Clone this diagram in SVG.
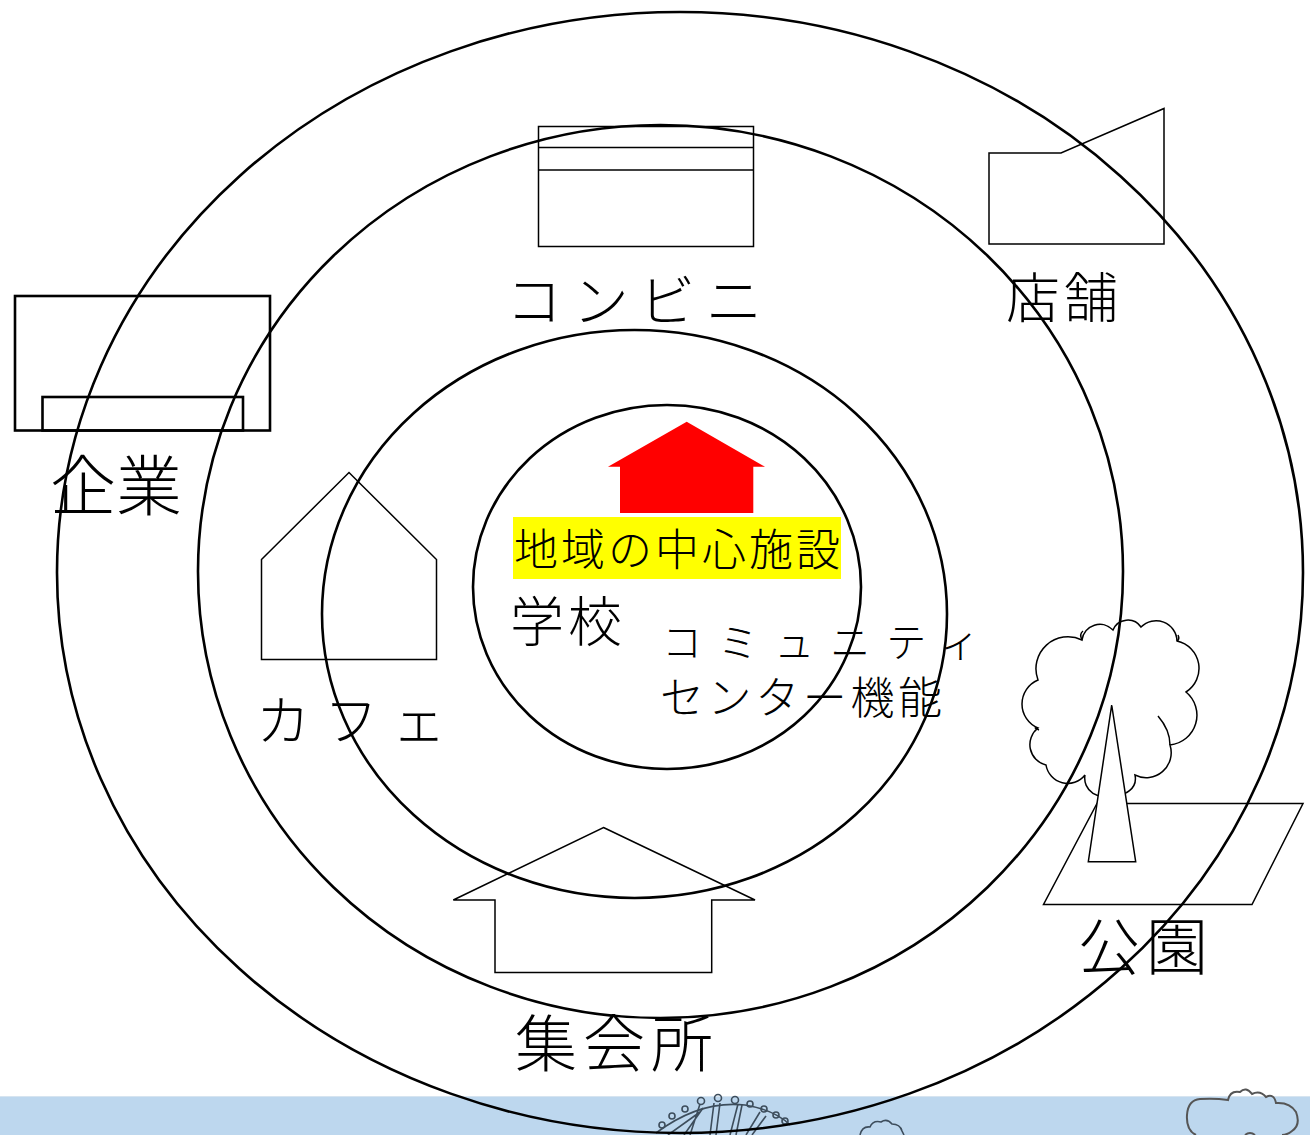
<svg xmlns="http://www.w3.org/2000/svg" width="1310" height="1135" viewBox="0 0 1310 1135">
  <style>
    .lbl { font-family: "Noto Sans CJK JP", "Noto Sans", sans-serif; font-weight: 300; fill: #000; }
    .shape { fill: #fff; stroke: #000; stroke-width: 1.5; stroke-linejoin: miter; }
    .thick { fill: none; stroke: #000; stroke-width: 2.6; }
    .ring { fill: none; stroke: #000; stroke-width: 2.6; }
    .deco { fill: none; stroke: #3d4d5c; stroke-width: 1.6; }
  </style>

  <rect width="1310" height="1135" fill="#fff"/>

  <!-- bottom band with scenery -->
  <g id="band">
    <rect x="0" y="1096" width="1310" height="39" fill="#bdd7ee"/>
    <line x1="0" y1="1096.5" x2="1310" y2="1096.5" stroke="#d6e4f0" stroke-width="1"/>
    <!-- ferris wheel -->
    <g class="deco">
      <path d="M656,1133 Q700,1100 745,1105 Q775,1110 790,1125"/>
      <path d="M668,1135 L700,1112 M684,1135 L703,1108 M690,1135 L700,1104 M710,1135 L714,1103 M716,1135 L720,1103 M730,1135 L738,1104 M736,1135 L742,1105 M746,1135 L760,1112 M752,1135 L766,1116"/>
      <circle cx="662" cy="1125" r="3"/>
      <circle cx="672" cy="1116" r="3"/>
      <circle cx="685" cy="1109" r="3"/>
      <circle cx="701" cy="1101" r="3.5"/>
      <circle cx="718" cy="1098" r="3.5"/>
      <circle cx="735" cy="1100" r="3.5"/>
      <circle cx="750" cy="1104" r="3"/>
      <circle cx="764" cy="1109" r="3"/>
      <circle cx="776" cy="1115" r="3"/>
      <circle cx="785" cy="1121" r="3"/>
    </g>
    <!-- small tree -->
    <path class="deco" d="M860,1135 Q862,1126 870,1127 Q873,1120 881,1122 Q887,1118 892,1124 Q900,1124 902,1131 L904,1135"/>
    <!-- cloud -->
    <path fill="none" stroke="#555" stroke-width="2" d="M1196,1135 Q1186,1130 1187,1115 Q1188,1100 1200,1099 Q1215,1098 1228,1100 Q1230,1090 1240,1092 Q1246,1086 1252,1094 Q1260,1090 1266,1097 Q1274,1093 1276,1103 Q1290,1102 1296,1112 Q1301,1125 1292,1131 Q1287,1135 1282,1135 M1255,1135 Q1250,1131 1245,1135"/>
  </g>

  <!-- convenience store -->
  <g id="konbini">
    <rect class="shape" x="538.5" y="126.5" width="215" height="120"/>
    <line x1="538.5" y1="147.5" x2="753.5" y2="147.5" stroke="#000" stroke-width="1.5"/>
    <line x1="538.5" y1="170" x2="753.5" y2="170" stroke="#000" stroke-width="1.5"/>
    <text class="lbl" x="506" y="321" font-size="56" textLength="256" lengthAdjust="spacing">コンビニ</text>
  </g>

  <!-- shop -->
  <g id="tenpo">
    <path class="shape" d="M989,153 L1061,153 L1164,108.5 L1164,244 L989,244 Z"/>
    <text class="lbl" x="1006" y="318" font-size="54" textLength="112" lengthAdjust="spacing">店舗</text>
  </g>

  <!-- company -->
  <g id="kigyou">
    <rect class="thick" x="15" y="296" width="255" height="134.5"/>
    <rect class="thick" x="42.5" y="397" width="200.5" height="33.5"/>
    <text class="lbl" x="50" y="510" font-size="66" textLength="132" lengthAdjust="spacing">企業</text>
  </g>

  <!-- cafe -->
  <g id="cafe">
    <path class="shape" d="M261.5,559.5 L349,472.5 L436.5,559.5 L436.5,659.5 L261.5,659.5 Z"/>
    <text class="lbl" x="256" y="741" font-size="54" textLength="190" lengthAdjust="spacing">カフェ</text>
  </g>

  <!-- community hub -->
  <g id="center">
    <path fill="#ff0000" d="M686.7,421.7 L765,466.7 L753.3,466.7 L753.3,513 L620,513 L620,466.7 L608,466.7 Z"/>
    <rect x="513" y="517" width="328" height="62" fill="#ffff00"/>
    <text class="lbl" x="514" y="566" font-size="44" textLength="326" lengthAdjust="spacing">地域の中心施設</text>
    <text class="lbl" x="510" y="642" font-size="54" textLength="112" lengthAdjust="spacing">学校</text>
    <text class="lbl" x="662" y="657" font-size="40" textLength="318" lengthAdjust="spacing">コミュニティ</text>
    <text class="lbl" x="660" y="714" font-size="44" textLength="282" lengthAdjust="spacing">センター機能</text>
  </g>

  <!-- assembly hall -->
  <g id="shuukaijo">
    <path class="shape" stroke-width="1.7" d="M603.5,827.5 L755,900 L711.7,900 L711.7,972.5 L495,972.5 L495,900 L453.3,900 Z"/>
    <text class="lbl" x="515" y="1067" font-size="62" textLength="198" lengthAdjust="spacing">集会所</text>
  </g>

  <!-- park -->
  <g id="kouen">
    <path class="shape" d="M1097,803.5 L1303,803.5 L1252,904.5 L1043.5,904.5 Z"/>
    <path class="shape" d="M1038,680 A32,32 0 0 1 1082,640 A18,18 0 0 1 1113,630 A16,16 0 0 1 1141,627 A21,21 0 0 1 1177,641 A28,28 0 0 1 1186,692 A30,30 0 0 1 1170,745 A25,25 0 0 1 1135,775 A16,16 0 0 1 1113,793 A18,18 0 0 1 1085,775 A22,22 0 0 1 1046,765 A21,21 0 0 1 1038,728 A26,26 0 0 1 1038,680 Z"/>
    <path fill="none" stroke="#000" stroke-width="1.5" d="M1082,640 Q1079,634 1083,631 M1177,641 Q1180,639 1178,635 M1158,716 Q1170,730 1170,745 M1038,728 Q1032,727 1039,730"/>
    <path class="shape" d="M1111.7,705 L1135.7,861.7 L1088.3,861.7 Z"/>
    <text class="lbl" x="1078" y="970" font-size="62" textLength="130" lengthAdjust="spacing">公園</text>
  </g>

  <!-- concentric rings -->
  <g id="rings">
    <ellipse class="ring" cx="680" cy="572.5" rx="623" ry="560.5"/>
    <ellipse class="ring" cx="660.5" cy="571.5" rx="462.5" ry="446.5"/>
    <ellipse class="ring" cx="634.5" cy="614" rx="312.5" ry="284"/>
    <ellipse class="ring" cx="667" cy="587" rx="194" ry="182"/>
  </g>
</svg>
